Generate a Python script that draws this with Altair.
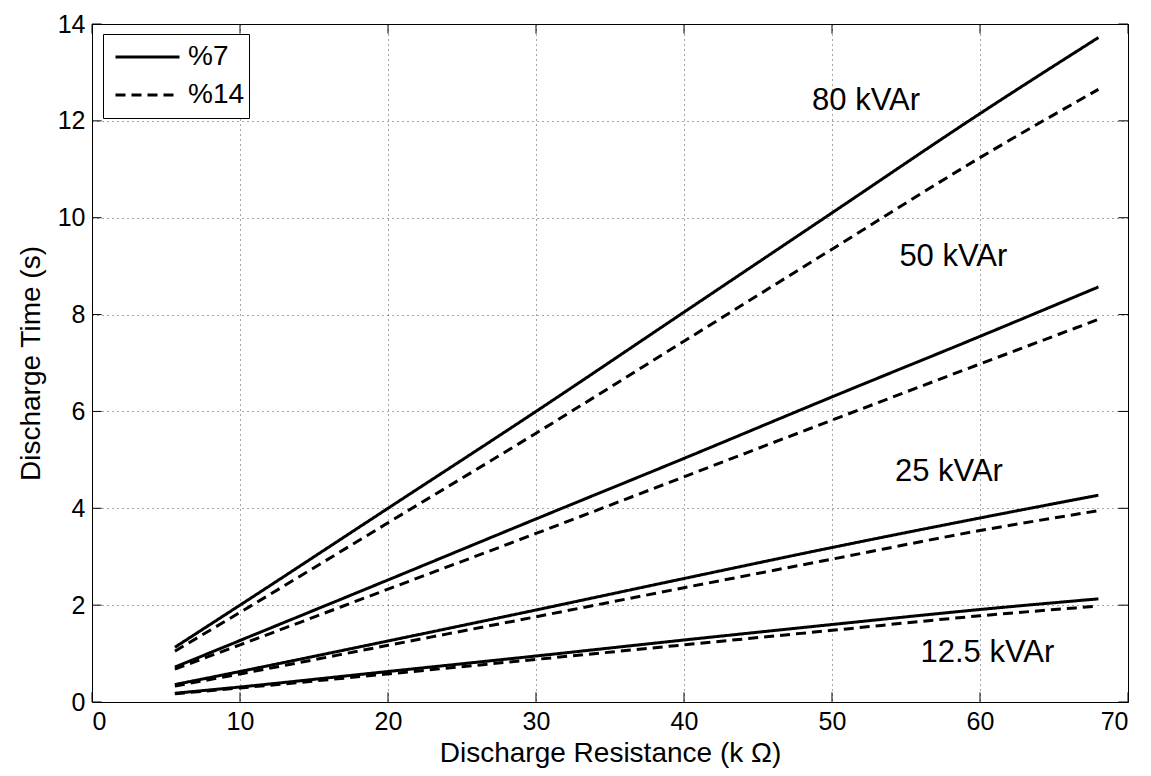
import altair as alt
import pandas as pd

R = [5.6, 10, 20, 30, 40, 50, 60, 68]
t80_7 = [1.13, 2.0, 4.0, 6.0, 8.05, 10.1, 12.15, 13.72]
t80_14 = [1.05, 1.85, 3.7, 5.55, 7.45, 9.35, 11.24, 12.65]
t50_7 = [0.72, 1.27, 2.52, 3.78, 5.03, 6.3, 7.55, 8.57]
t50_14 = [0.68, 1.18, 2.33, 3.48, 4.65, 5.82, 6.98, 7.9]
t25_7 = [0.36, 0.63, 1.26, 1.9, 2.55, 3.19, 3.8, 4.27]
t25_14 = [0.33, 0.58, 1.17, 1.76, 2.36, 2.95, 3.54, 3.95]
t12_7 = [0.18, 0.31, 0.63, 0.95, 1.28, 1.6, 1.91, 2.13]
t12_14 = [0.17, 0.29, 0.58, 0.88, 1.18, 1.48, 1.78, 1.98]

series = {
    ("80", "%7"): t80_7, ("80", "%14"): t80_14,
    ("50", "%7"): t50_7, ("50", "%14"): t50_14,
    ("25", "%7"): t25_7, ("25", "%14"): t25_14,
    ("12.5", "%7"): t12_7, ("12.5", "%14"): t12_14,
}

label_text = ["80 kVAr", "50 kVAr", "25 kVAr", "12.5 kVAr"]
label_x = [52.3, 58.2, 57.9, 60.5]
label_y = [12.4, 9.19, 4.75, 1.01]

x_ticks = [0, 10, 20, 30, 40, 50, 60, 70]
y_ticks = [0, 2, 4, 6, 8, 10, 12, 14]

rows = []
for (cap, typ), vals in series.items():
    for r, t in zip(R, vals):
        rows.append({"R": r, "T": t, "cap": cap, "type": typ, "sid": cap + typ})
df = pd.DataFrame(rows)

FONT = "Liberation Sans"
xs = alt.Scale(domain=[0, 70], nice=False, zero=False)
ys = alt.Scale(domain=[0, 14], nice=False, zero=False)

lines = alt.Chart(df).mark_line(color="black", strokeWidth=3, clip=True, interpolate="monotone").encode(
    x=alt.X("R:Q", scale=xs, axis=alt.Axis(values=x_ticks, title="Discharge Resistance (k Ω)",
                                           titleBaseline="alphabetic", titleY=59)),
    y=alt.Y("T:Q", scale=ys, axis=alt.Axis(values=y_ticks, title="Discharge Time (s)", titlePadding=12)),
    detail="sid:N",
    strokeDash=alt.StrokeDash(
        "type:N",
        scale=alt.Scale(domain=["%7", "%14"], range=[[1, 0], [10, 6]]),
        legend=alt.Legend(
            title=None, orient="none", legendX=11, legendY=10,
            symbolType="stroke", symbolSize=4096, symbolStrokeWidth=3,
            symbolStrokeColor="black", labelFontSize=28, labelFont=FONT,
            labelColor="black", strokeColor="black", fillColor="white",
            padding=4, rowPadding=0, clipHeight=38, labelOffset=7, symbolOffset=7,
        ),
    ),
)

labels_df = pd.DataFrame({"text": label_text, "x": label_x, "y": label_y})
labels = alt.Chart(labels_df).mark_text(font=FONT, fontSize=31, color="black").encode(
    x=alt.X("x:Q", scale=xs), y=alt.Y("y:Q", scale=ys), text="text:N"
)

# inward ticks (MATLAB style) on all four sides
xt = pd.DataFrame({"x": x_ticks})
yt = pd.DataFrame({"y": y_ticks})
tb = alt.Chart(xt).mark_rule(color="black", strokeWidth=1).encode(
    x=alt.X("x:Q", scale=xs), y=alt.datum(0, scale=ys), y2=alt.datum(0.2)
)
tt = alt.Chart(xt).mark_rule(color="black", strokeWidth=1).encode(
    x=alt.X("x:Q", scale=xs), y=alt.datum(13.8, scale=ys), y2=alt.datum(14)
)
tl = alt.Chart(yt).mark_rule(color="black", strokeWidth=1).encode(
    y=alt.Y("y:Q", scale=ys), x=alt.datum(0, scale=xs), x2=alt.datum(0.65)
)
tr = alt.Chart(yt).mark_rule(color="black", strokeWidth=1).encode(
    y=alt.Y("y:Q", scale=ys), x=alt.datum(69.35, scale=xs), x2=alt.datum(70)
)

chart = alt.layer(lines, labels, tb, tt, tl, tr).properties(
    width=1036, height=678,
    autosize=alt.AutoSizeParams(type="none"),
    padding={"left": 84, "top": 16, "right": 15, "bottom": 66},
).configure(background="white").configure_view(stroke="black", strokeWidth=1).configure_axis(
    labelFont=FONT, labelFontSize=25, labelColor="black", labelPadding=7,
    titleFont=FONT, titleFontSize=28, titleFontWeight="normal", titleColor="black",
    ticks=False, domain=False,
    grid=True, gridColor="black", gridDash=[1, 4], gridOpacity=0.7, gridWidth=1,
)

chart.save("out.html", embed_options={"renderer": "svg", "actions": False})
